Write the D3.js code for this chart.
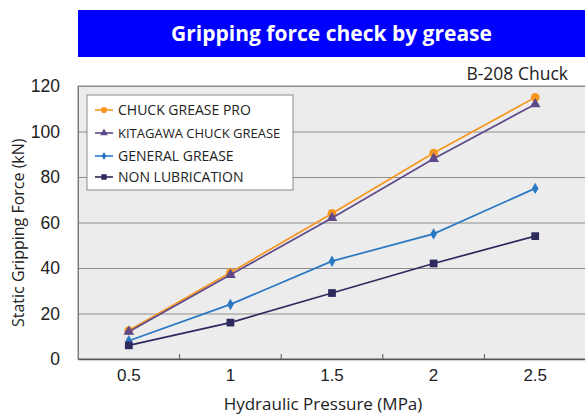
<!DOCTYPE html>
<html>
<head>
<meta charset="utf-8">
<script src="https://cdn.jsdelivr.net/npm/d3@7"></script>
<style>
  body { margin: 0; background: #fff; }
  svg { display: block; font-family: "Open Sans", "Noto Sans", sans-serif; }
</style>
</head>
<body>
<div id="chart"></div>
<script>
// chart data
const pressures = ["0.5", "1", "1.5", "2", "2.5"];
const seriesNames = ["CHUCK GREASE PRO", "KITAGAWA CHUCK GREASE", "GENERAL GREASE", "NON LUBRICATION"];
const chuckGreasePro = [12.5, 38, 64, 90.5, 115];
const kitagawaGrease = [12, 37, 62, 88, 112];
const generalGrease = [8, 24, 43, 55, 75];
const nonLubrication = [6, 16, 29, 42, 54];
const yTicks = [0, 20, 40, 60, 80, 100, 120];

const width = 585;
const height = 415;
const margin = {left: 78, right: -1, top: 86, bottom: 56};

const series = [
  {name: seriesNames[0], values: chuckGreasePro, color: "#f7961e", symbol: d3.symbolCircle, size: 60, fs: 14},
  {name: seriesNames[1], values: kitagawaGrease, color: "#5e4a8a", symbol: d3.symbolTriangle, size: 50, fs: 13},
  {name: seriesNames[2], values: generalGrease, color: "#2a78c4", symbol: d3.symbolDiamond, size: 38, fs: 14},
  {name: seriesNames[3], values: nonLubrication, color: "#2d2a5e", symbol: d3.symbolSquare, size: 60, fs: 14}
];

const svg = d3.select("#chart")
  .append("svg")
  .attr("width", width)
  .attr("height", height);

// title banner
svg.append("rect")
  .attr("x", 78).attr("y", 10)
  .attr("width", width - 78).attr("height", 47)
  .attr("fill", "#0000ff");
svg.append("text")
  .attr("x", 78 + (width - 78) / 2).attr("y", 41)
  .attr("text-anchor", "middle")
  .attr("fill", "#fff")
  .attr("font-size", "21px")
  .attr("font-weight", "bold")
  .text("Gripping force check by grease");

svg.append("text")
  .attr("x", 568).attr("y", 80)
  .attr("text-anchor", "end")
  .attr("fill", "#222")
  .attr("font-size", "17.5px")
  .text("B-208 Chuck");

// scales
const xScale = d3.scaleBand()
  .domain(pressures)
  .range([margin.left, width - margin.right]);

const yScale = d3.scaleLinear()
  .domain([0, 120])
  .range([height - margin.bottom, margin.top]);

// plot background
svg.append("rect")
  .attr("x", margin.left).attr("y", margin.top)
  .attr("width", width - margin.right - margin.left)
  .attr("height", yScale(0) - margin.top)
  .attr("fill", "#ececec")
  .attr("stroke", "#8a8a8a");

// grid lines
svg.append("g")
  .selectAll("line")
  .data(yTicks.slice(1))
  .enter()
  .append("line")
  .attr("x1", margin.left).attr("x2", width)
  .attr("y1", d => yScale(d) + 0.5).attr("y2", d => yScale(d) + 0.5)
  .attr("stroke", "#8e8e8e")
  .attr("stroke-width", 1.2);

// y axis
const yAxis = svg.append("g")
  .attr("transform", `translate(${margin.left}, 0)`)
  .call(d3.axisLeft(yScale).tickValues(yTicks).tickSize(0).tickPadding(18));
yAxis.select(".domain").attr("stroke", "#777");
yAxis.selectAll("text").attr("font-size", "17.5px").attr("fill", "#222");

// x axis
const xAxis = svg.append("g")
  .attr("transform", `translate(0, ${yScale(0)})`)
  .call(d3.axisBottom(xScale).tickSize(0).tickPadding(10));
xAxis.select(".domain").attr("stroke", "#555").attr("stroke-width", 1.5);
xAxis.selectAll("text").attr("font-size", "17px").attr("fill", "#222");

// small inward ticks between categories
svg.append("g")
  .selectAll("line")
  .data(pressures.slice(1))
  .enter()
  .append("line")
  .attr("x1", d => xScale(d)).attr("x2", d => xScale(d))
  .attr("y1", yScale(0)).attr("y2", yScale(0) - 5)
  .attr("stroke", "#555");

// axis titles
svg.append("text")
  .attr("x", 323).attr("y", 410)
  .attr("text-anchor", "middle")
  .attr("font-size", "17px")
  .attr("fill", "#222")
  .text("Hydraulic Pressure (MPa)");

svg.append("text")
  .attr("transform", `translate(24, ${yScale(55.5)}) rotate(-90)`)
  .attr("text-anchor", "middle")
  .attr("font-size", "16px")
  .attr("fill", "#222")
  .text("Static Gripping Force (kN)");

// lines and markers
const line = d3.line()
  .x((d, i) => xScale(pressures[i]) + xScale.bandwidth() / 2)
  .y(d => yScale(d));

series.forEach(s => {
  svg.append("path")
    .datum(s.values)
    .attr("fill", "none")
    .attr("stroke", s.color)
    .attr("stroke-width", 1.7)
    .attr("d", line);

  svg.selectAll(null)
    .data(s.values)
    .enter()
    .append("path")
    .attr("transform", (d, i) => `translate(${xScale(pressures[i]) + xScale.bandwidth() / 2}, ${yScale(d)})`)
    .attr("d", d3.symbol().type(s.symbol).size(s.size))
    .attr("fill", s.color);
});

// legend
const legend = svg.append("g").attr("transform", "translate(87, 95)");
legend.append("rect")
  .attr("width", 206).attr("height", 95)
  .attr("fill", "#fff")
  .attr("stroke", "#8a8a8a");

const legendY = [15, 38, 61, 82];
series.forEach((s, i) => {
  const g = legend.append("g").attr("transform", `translate(0, ${legendY[i]})`);
  g.append("line")
    .attr("x1", 8).attr("x2", 26)
    .attr("stroke", s.color).attr("stroke-width", 1.6);
  g.append("path")
    .attr("transform", "translate(17, 0)")
    .attr("d", d3.symbol().type(s.symbol).size(s.size * 0.5))
    .attr("fill", s.color);
  g.append("text")
    .attr("x", 31).attr("y", 5)
    .attr("font-size", s.fs + "px")
    .attr("fill", "#222")
    .text(s.name);
});
</script>
</body>
</html>
